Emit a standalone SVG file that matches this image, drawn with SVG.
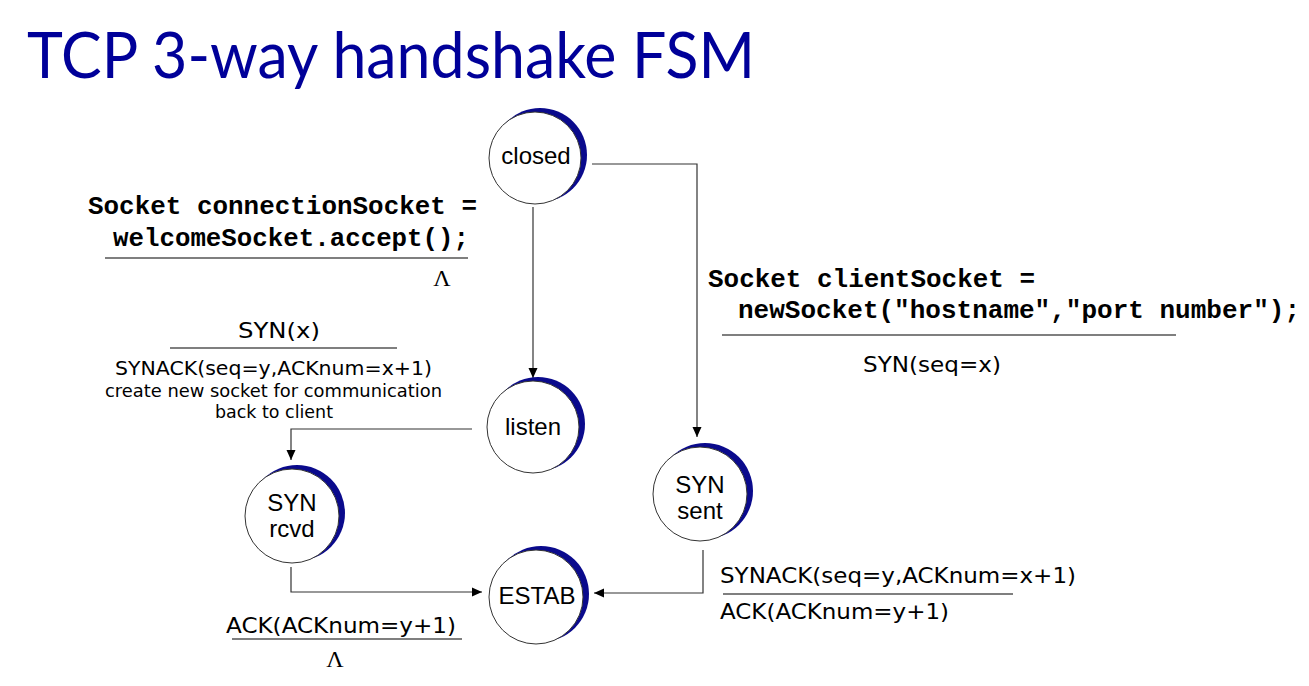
<svg xmlns="http://www.w3.org/2000/svg" width="1309" height="686" viewBox="0 0 1309 686">
<defs>
<marker id="arr" markerUnits="userSpaceOnUse" markerWidth="12" markerHeight="12" refX="10" refY="5" orient="auto">
<path d="M0,0.5 L10,5 L0,9.5 Z" fill="#000"/>
</marker>
</defs>
<style>
.title{font-family:Lato,"Open Sans",sans-serif;font-size:63px;fill:#000099}
.shade{fill:#0a0a8c}
.face{fill:#fff;stroke:#333;stroke-width:1}
.nt{font-family:"Liberation Sans",Arial,sans-serif;font-size:24px;fill:#000;text-anchor:middle}
.code{font-family:"Liberation Mono","Courier New",monospace;font-size:26px;font-weight:bold;fill:#000}
.lbl{font-family:"DejaVu Sans",Verdana,sans-serif;fill:#000}
.lam{font-family:"Liberation Serif","Times New Roman",serif;font-size:24px;fill:#000;text-anchor:middle}
.rule{stroke:#000;stroke-width:1.2}
.conn{fill:none;stroke:#333;stroke-width:1.2;marker-end:url(#arr)}
</style>
<rect width="1309" height="686" fill="#fff"/>
<text class="title" x="27" y="78" textLength="728" lengthAdjust="spacingAndGlyphs">TCP 3-way handshake FSM</text>

<g id="connectors">
<path class="conn" d="M533,207 V378"/>
<path class="conn" d="M592,164 H697 V437"/>
<path class="conn" d="M472,429 H291 V460"/>
<path class="conn" d="M291,567 V592 H482"/>
<path class="conn" d="M703,550 V593 H594"/>
</g>

<g id="node-closed">
<circle class="shade" cx="540" cy="155" r="47"/>
<circle class="face" cx="535" cy="158" r="46"/>
<text class="nt" x="536" y="164">closed</text>
</g>
<g id="node-listen">
<circle class="shade" cx="538" cy="424" r="47"/>
<circle class="face" cx="533" cy="427" r="46"/>
<text class="nt" x="533" y="435">listen</text>
</g>
<g id="node-synrcvd">
<circle class="shade" cx="297" cy="513" r="48"/>
<circle class="face" cx="292" cy="516" r="47"/>
<text class="nt" x="292" y="511">SYN</text>
<text class="nt" x="292" y="537">rcvd</text>
</g>
<g id="node-synsent">
<circle class="shade" cx="705" cy="491" r="48"/>
<circle class="face" cx="700" cy="494" r="47"/>
<text class="nt" x="700" y="493">SYN</text>
<text class="nt" x="700" y="519">sent</text>
</g>
<g id="node-estab">
<circle class="shade" cx="541" cy="594" r="48"/>
<circle class="face" cx="536" cy="597" r="47"/>
<text class="nt" x="537" y="604">ESTAB</text>
</g>

<g id="labels">
<text class="code" x="88" y="214" textLength="389" lengthAdjust="spacingAndGlyphs">Socket connectionSocket =</text>
<text class="code" x="113" y="246" textLength="356" lengthAdjust="spacingAndGlyphs">welcomeSocket.accept();</text>
<line class="rule" x1="105" y1="258" x2="468" y2="258"/>
<text class="lam" x="442" y="286">Λ</text>

<text class="lbl" x="238" y="338" font-size="21" textLength="82" lengthAdjust="spacingAndGlyphs">SYN(x)</text>
<line class="rule" x1="170" y1="348" x2="397" y2="348"/>
<text class="lbl" x="115" y="375" font-size="20" textLength="317" lengthAdjust="spacingAndGlyphs">SYNACK(seq=y,ACKnum=x+1)</text>
<text class="lbl" x="105" y="397" font-size="17" textLength="337" lengthAdjust="spacingAndGlyphs">create new socket for communication</text>
<text class="lbl" x="215" y="418" font-size="17" textLength="118" lengthAdjust="spacingAndGlyphs">back to client</text>

<text class="code" x="708" y="287" textLength="327" lengthAdjust="spacingAndGlyphs">Socket clientSocket =</text>
<text class="code" x="738" y="318" textLength="562" lengthAdjust="spacingAndGlyphs">newSocket("hostname","port number");</text>
<line class="rule" x1="722" y1="335" x2="1176" y2="335"/>
<text class="lbl" x="863" y="372" font-size="21" textLength="138" lengthAdjust="spacingAndGlyphs">SYN(seq=x)</text>

<text class="lbl" x="720" y="583" font-size="22" textLength="356" lengthAdjust="spacingAndGlyphs">SYNACK(seq=y,ACKnum=x+1)</text>
<line class="rule" x1="723" y1="594" x2="1013" y2="594"/>
<text class="lbl" x="720" y="619" font-size="22" textLength="229" lengthAdjust="spacingAndGlyphs">ACK(ACKnum=y+1)</text>

<text class="lbl" x="226" y="633" font-size="22" textLength="230" lengthAdjust="spacingAndGlyphs">ACK(ACKnum=y+1)</text>
<line class="rule" x1="232" y1="639" x2="462" y2="639"/>
<text class="lam" x="335" y="667">Λ</text>
</g>
</svg>
